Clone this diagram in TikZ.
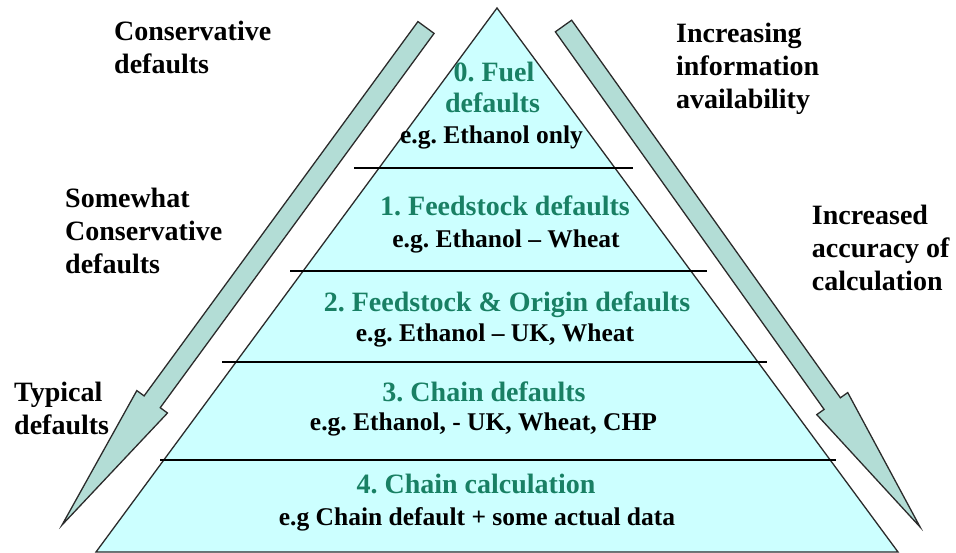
\documentclass[tikz,border=0pt]{standalone}
\usepackage{fontspec}
\setmainfont{Liberation Serif}
\newfontfamily\timesfont{Liberation Serif}
\usetikzlibrary{calc}
\definecolor{trifill}{HTML}{CCFFFF}
\definecolor{grn}{RGB}{25,128,100}
\definecolor{arrfill}{HTML}{B3DDD6}
\definecolor{edgecol}{HTML}{2B2B2B}
\frenchspacing
\begin{document}
\begin{tikzpicture}[x=1pt,y=-1pt,
  title/.style={font=\timesfont\fontsize{28}{33}\selectfont\bfseries, text=grn, inner sep=0pt, anchor=base},
  example/.style={font=\timesfont\fontsize{25.5}{30}\selectfont\bfseries, text=black, inner sep=0pt, anchor=base},
  side/.style={font=\timesfont\fontsize{28}{33}\selectfont\bfseries, text=black, inner sep=0pt, anchor=base west},
  levelline/.style={draw=black, line width=1.4pt},
  bigarrow/.style={fill=arrfill, draw=edgecol, line width=1.3pt, line join=miter},
]
\useasboundingbox (0,0) rectangle (956,553);
% pyramid
\coordinate (apex) at (497,8);
\coordinate (bl) at (96,552);
\coordinate (br) at (898,552);
\draw[fill=trifill, draw=edgecol, line width=1.3pt] (apex) -- (br) -- (bl) -- cycle;
% level separators
\coordinate (s1l) at (354,168); \coordinate (s1r) at (633,168);
\coordinate (s2l) at (290,271); \coordinate (s2r) at (707,271);
\coordinate (s3l) at (222,362); \coordinate (s3r) at (767,362);
\coordinate (s4l) at (160,460); \coordinate (s4r) at (836,460);
\draw[levelline] (s1l) -- (s1r);
\draw[levelline] (s2l) -- (s2r);
\draw[levelline] (s3l) -- (s3r);
\draw[levelline] (s4l) -- (s4r);
% big arrows
\begin{scope}[shift={(426,27.5)}, rotate=-126.19]
  \draw[bigarrow] (0,-10) -- (463.8,-10) -- (463.8,-19) -- (616.4,0) -- (463.8,19) -- (463.8,10) -- (0,10) -- cycle;
\end{scope}
\begin{scope}[shift={(563.5,26)}, rotate=-54.56]
  \draw[bigarrow] (0,-10) -- (463.5,-10) -- (463.5,-19) -- (614.9,0) -- (463.5,19) -- (463.5,10) -- (0,10) -- cycle;
\end{scope}
% level texts
\node[title] (t0a) at (494,82) {0. Fuel};
\node[title] (t0b) at (492.5,113) {defaults};
\node[example] (e0) at (491.5,144) {e.g. Ethanol only};
\node[title] (t1) at (505,215.7) {1. Feedstock defaults};
\node[example] (e1) at (506,248) {e.g. Ethanol – Wheat};
\node[title] (t2) at (507,311.7) {2. Feedstock \& Origin defaults};
\node[example] (e2) at (495,341.7) {e.g. Ethanol – UK, Wheat};
\node[title] (t3) at (484,401.7) {3. Chain defaults};
\node[example] (e3) at (483.5,430) {e.g. Ethanol, - UK, Wheat, CHP};
\node[title] (t4) at (476,493.7) {4. Chain calculation};
\node[example] (e4) at (477,525.3) {e.g Chain default + some actual data};
% side labels
\node[side] (cons) at (114,40.7) {\begin{tabular}[t]{@{}l@{}}Conservative\\defaults\end{tabular}};
\node[side] (somew) at (65,208) {\begin{tabular}[t]{@{}l@{}}Somewhat\\Conservative\\defaults\end{tabular}};
\node[side] (typ) at (14,401.7) {\begin{tabular}[t]{@{}l@{}}Typical\\defaults\end{tabular}};
\node[side] (incinfo) at (676,43) {\begin{tabular}[t]{@{}l@{}}Increasing\\information\\availability\end{tabular}};
\node[side] (incacc) at (811.7,225) {\begin{tabular}[t]{@{}l@{}}Increased\\accuracy of\\calculation\end{tabular}};
\end{tikzpicture}
\end{document}
